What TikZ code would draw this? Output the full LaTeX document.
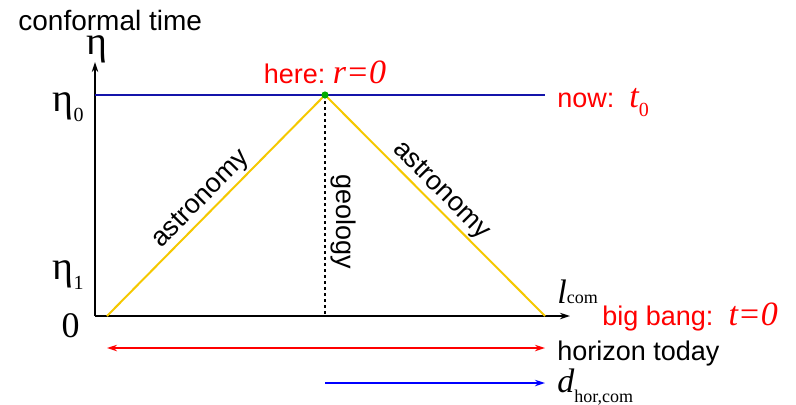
\documentclass[tikz,border=0pt]{standalone}
\usepackage{fontspec}
\setmainfont{Liberation Sans}
\newfontfamily\serif{Liberation Serif}
\usetikzlibrary{positioning,arrows.meta}
\definecolor{lightcone}{RGB}{245,200,0}
\definecolor{nowblue}{RGB}{20,20,170}
\definecolor{herered}{RGB}{255,0,0}
\definecolor{dotgreen}{RGB}{0,170,0}
\newcommand{\lowsub}[2][-0.55ex]{\raisebox{#1}{\fontsize{10}{10}\selectfont #2}}

\begin{document}
\begin{tikzpicture}[
    x=0.5pt, y=-0.5pt,
    font=\fontsize{13.5}{16}\selectfont,
    axis/.style={draw=black, line width=1.3pt, -{Stealth[length=5pt,width=3.2pt]}},
    cone/.style={draw=lightcone, line width=1pt},
    redlabel/.style={text=herered, inner sep=0pt},
    blacklabel/.style={text=black, inner sep=0pt},
    ticklabel/.style={inner sep=0pt, anchor=base east, font=\serif\fontsize{20}{20}\selectfont},
    span/.style={line width=0.8pt, {Stealth[length=5pt,width=3.2pt]}-{Stealth[length=5pt,width=3.2pt]}},
]
\useasboundingbox (0,0) rectangle (796,404);

% axes
\coordinate (origin) at (95,316);
\coordinate (ytip) at (95,62);
\coordinate (xtip) at (570,316);
\draw[axis] (origin) -- (ytip);
\draw[axis] (origin) -- (xtip);

% now line and light cone
\coordinate (nowstart) at (95,95);
\coordinate (here) at (325,95);
\coordinate (nowend) at (545,95);
\coordinate (bangL) at (107,316);
\coordinate (bangR) at (545,316);
\coordinate (bangC) at (325,316);
\draw[nowblue, line width=0.8pt] (nowstart) -- (nowend);
\draw[cone] (bangL) -- node[sloped, above, pos=0.48, inner sep=1pt] (astroL) {astronomy} (here);
\draw[cone] (here) -- node[sloped, above, pos=0.48, inner sep=1pt] (astroR) {astronomy} (bangR);
\draw[black, dash pattern=on 1.6pt off 1.4pt, line width=0.7pt] (here) -- (bangC);
\node[rotate=-90] (geo) at (343,222) {geology};
\fill[dotgreen] (here) circle (1.8pt);

% axis labels
\node[blacklabel, anchor=west, font=\fontsize{14}{16}\selectfont] (ctime) at (18,20) {conformal time};
\node[inner sep=0pt, anchor=base, font=\serif\fontsize{20}{20}\selectfont] (eta) at (97,54) {η};
\node[ticklabel] (eta0) at (84,111) {η\lowsub{0}};
\node[ticklabel] (eta1) at (84,279) {η\lowsub{1}};
\node[ticklabel, font=\serif\fontsize{18}{18}\selectfont] (zero) at (80,337) {0};
\node[blacklabel, anchor=base west] (lcom) at (557,303) {{\serif\itshape\fontsize{17}{17}\selectfont l}{\serif\fontsize{9}{9}\selectfont com}};

% event labels
\node[redlabel, anchor=base] (herelbl) at (325,83) {here:\ {\serif\itshape\fontsize{17}{17}\selectfont r=0}};
\node[redlabel, anchor=base west] (nowlbl) at (557,107) {now:\ \ {\serif\itshape\fontsize{17}{17}\selectfont t}\lowsub[-0.7ex]{\serif 0}};
\node[redlabel, anchor=base west] (banglbl) at (602,325) {big bang:\ \ {\serif\itshape\fontsize{17}{17}\selectfont t=0}};

% horizons
\coordinate (horL) at (107,348);
\coordinate (horR) at (545,348);
\coordinate (dhorL) at (325,383);
\coordinate (dhorR) at (545,383);
\draw[span, herered] (horL) -- (horR);
\draw[line width=0.8pt, blue, -{Stealth[length=5pt,width=3.2pt]}] (dhorL) -- (dhorR);
\node[blacklabel, anchor=base west] (horlbl) at (557,360) {horizon today};
\node[blacklabel, anchor=base west] (dlbl) at (557,392) {{\serif\itshape\fontsize{17}{17}\selectfont d}\raisebox{-5pt}{\serif\fontsize{9}{9}\selectfont hor,com}};
\end{tikzpicture}
\end{document}
